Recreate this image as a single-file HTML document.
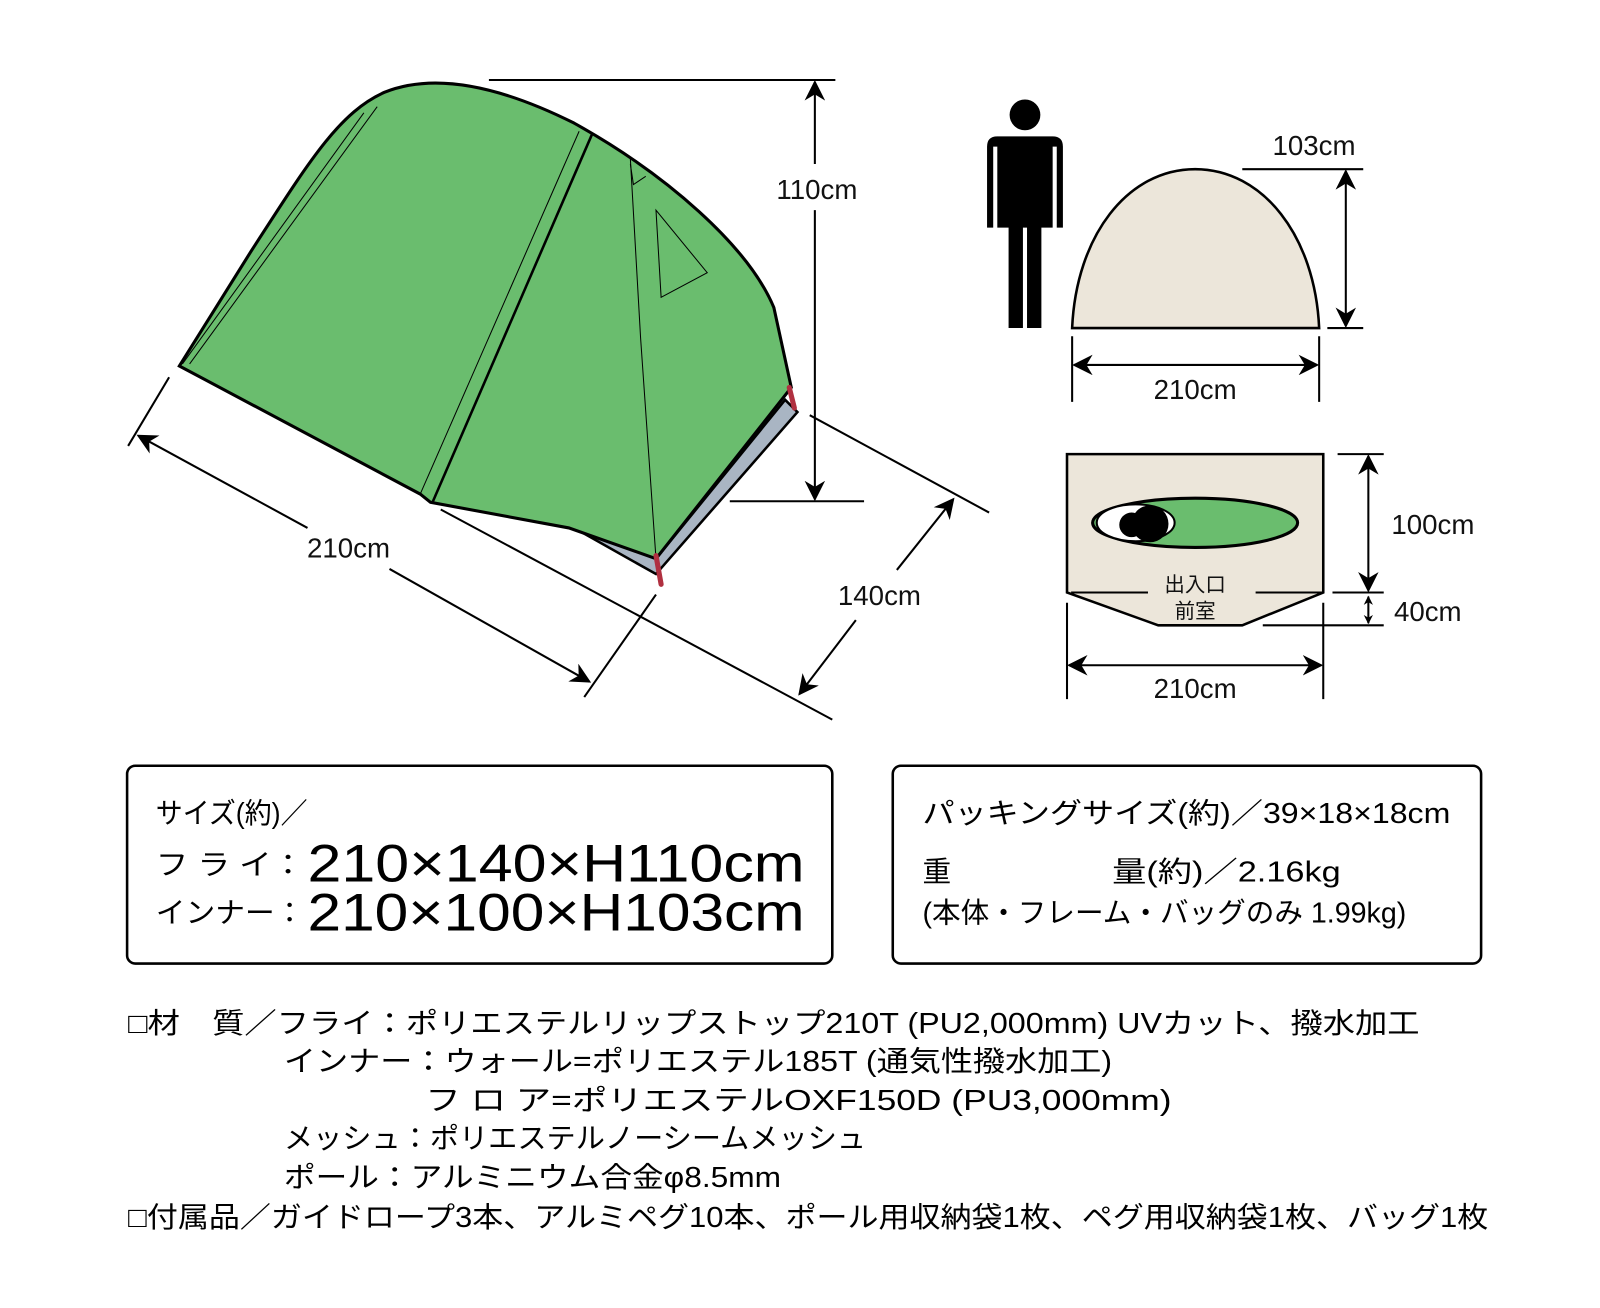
<!DOCTYPE html>
<html><head><meta charset="utf-8"><style>html,body{margin:0;padding:0;background:#fff}svg{display:block}</style></head><body>
<svg width="1600" height="1308" viewBox="0 0 1561 1276" xmlns="http://www.w3.org/2000/svg" font-family="'Liberation Sans','Noto Sans CJK JP',sans-serif">
<defs><marker id="a" viewBox="0 0 10 10" refX="9" refY="5" markerWidth="9" markerHeight="9" orient="auto-start-reverse" markerUnits="userSpaceOnUse"><path d="M0,0 L10,5 L0,10 L3,5z" fill="#000"/></marker>
<marker id="b" viewBox="0 0 10 10" refX="9" refY="5" markerWidth="20" markerHeight="20" orient="auto-start-reverse" markerUnits="userSpaceOnUse"><path d="M0,0 L10,5 L0,10 L3,5z" fill="#000"/></marker></defs>
<g stroke="#000" stroke-width="2" fill="none">
<polygon points="560,515 640,560 778,402 766,390 640,545" fill="#a9b5c3" stroke-width="2.5"/>
<path d="M175,357 L245,245 C300,160 330,110 375,90 C420,72 480,80 560,120 C650,170 730,240 755,300 L772,378 L640,545 L555,515 L420,490 L410,482 Z" fill="#6abd6e" stroke-width="3"/>
<line x1="410" y1="482" x2="565" y2="128" stroke-width="1"/>
<line x1="422" y1="490" x2="578" y2="130" stroke-width="2.5"/>
<line x1="178" y1="355" x2="355" y2="110" stroke-width="1"/>
<line x1="185" y1="355" x2="368" y2="104" stroke-width="1"/>
<path d="M615,155 L625,330 L640,545" stroke-width="1"/>
<path d="M640,205 L645,290 L690,266 Z" stroke-width="1"/>
<path d="M615,160 L618,180 L630,172" stroke-width="1"/>
<line x1="640" y1="542" x2="645" y2="570" stroke="#b03040" stroke-width="5" stroke-linecap="round"/>
<line x1="770" y1="378" x2="775" y2="398" stroke="#b03040" stroke-width="5" stroke-linecap="round"/>
<line x1="477" y1="78" x2="815" y2="78"/>
<line x1="712" y1="489" x2="843" y2="489"/>
<line x1="795" y1="80" x2="795" y2="160" marker-start="url(#b)"/>
<line x1="795" y1="205" x2="795" y2="487" marker-end="url(#b)"/>
<line x1="165" y1="368" x2="125" y2="435"/>
<line x1="640" y1="580" x2="570" y2="680"/>
<line x1="135" y1="425" x2="300" y2="515" marker-start="url(#b)"/>
<line x1="380" y1="555" x2="575" y2="665" marker-end="url(#b)"/>
<line x1="790" y1="405" x2="965" y2="500"/>
<line x1="430" y1="497" x2="812" y2="702"/>
<line x1="930" y1="487" x2="875" y2="556" marker-start="url(#b)"/>
<line x1="835" y1="605" x2="780" y2="677" marker-end="url(#b)"/>
<path d="M1046,320 C1050,230 1100,165 1166,165 C1232,165 1283,230 1287,320 Z" fill="#ece6da" stroke-width="2.5"/>
<line x1="1212" y1="165" x2="1330" y2="165"/>
<line x1="1295" y1="320" x2="1330" y2="320"/>
<line x1="1313" y1="167" x2="1313" y2="318" marker-start="url(#b)" marker-end="url(#b)"/>
<line x1="1046" y1="328" x2="1046" y2="392"/><line x1="1287" y1="328" x2="1287" y2="392"/>
<line x1="1048" y1="356" x2="1285" y2="356" marker-start="url(#b)" marker-end="url(#b)"/>
<path d="M1041,443 L1291,443 L1291,578 L1212,610 L1130,610 L1041,578 Z" fill="#ece6da" stroke-width="2.5"/>
<line x1="1045" y1="578" x2="1120" y2="578"/><line x1="1225" y1="578" x2="1290" y2="578"/>
<ellipse cx="1166" cy="510" rx="100" ry="24" fill="#6abd6e" stroke-width="3"/>
<ellipse cx="1108" cy="510" rx="38" ry="18" fill="#fff" stroke-width="2"/>
<line x1="1305" y1="443" x2="1350" y2="443"/><line x1="1300" y1="578" x2="1350" y2="578"/><line x1="1232" y1="610" x2="1350" y2="610"/>
<line x1="1335" y1="445" x2="1335" y2="576" marker-start="url(#b)" marker-end="url(#b)"/>
<line x1="1335" y1="582" x2="1335" y2="608" marker-start="url(#a)" marker-end="url(#a)"/>
<line x1="1041" y1="588" x2="1041" y2="682"/><line x1="1291" y1="588" x2="1291" y2="682"/>
<line x1="1043" y1="649" x2="1289" y2="649" marker-start="url(#b)" marker-end="url(#b)"/>
<rect x="124" y="747" width="688" height="193" rx="8" stroke-width="2.5"/>
<rect x="871" y="747" width="574" height="193" rx="8" stroke-width="2.5"/>
</g>
<circle cx="1104" cy="512" r="12" fill="#000"/><circle cx="1122" cy="511" r="18" fill="#000"/>
<g fill="#000"><circle cx="1000" cy="112" r="15"/>
<path d="M963,222 L963,143 Q963,133 973,133 L1027,133 Q1037,133 1037,143 L1037,222 L1031,222 L1031,143 L1027,143 L1027,222 L1016,222 L1016,320 L1002,320 L1002,222 L998,222 L998,320 L984,320 L984,222 L973,222 L973,143 L969,143 L969,222 Z"/></g>
<g font-size="27" text-anchor="middle" fill="#111">
<text x="797" y="194">110cm</text><text x="340" y="544">210cm</text><text x="858" y="590">140cm</text>
<text x="1282" y="151">103cm</text><text x="1166" y="389">210cm</text><text x="1398" y="521">100cm</text><text x="1393" y="606">40cm</text><text x="1166" y="681">210cm</text>
<text x="1166" y="577" font-size="20">出入口</text><text x="1166" y="603" font-size="20">前室</text></g>
<g fill="#000" font-size="28">
<text x="152" y="803" textLength="148" lengthAdjust="spacingAndGlyphs">サイズ(約)／</text>
<text x="152" y="853" textLength="145" lengthAdjust="spacingAndGlyphs">フ ラ イ：</text>
<text x="152" y="900" textLength="145" lengthAdjust="spacingAndGlyphs">インナー：</text>
<text x="300" y="860" font-size="52" textLength="485" lengthAdjust="spacingAndGlyphs">210×140×H110cm</text>
<text x="300" y="908" font-size="52" textLength="485" lengthAdjust="spacingAndGlyphs">210×100×H103cm</text>
<text x="900" y="803" textLength="515" lengthAdjust="spacingAndGlyphs">パッキングサイズ(約)／39×18×18cm</text>
<text x="900" y="860">重</text>
<text x="1085" y="860" textLength="223" lengthAdjust="spacingAndGlyphs">量(約)／2.16kg</text>
<text x="900" y="900" textLength="472" lengthAdjust="spacingAndGlyphs">(本体・フレーム・バッグのみ 1.99kg)</text>
<text x="125" y="1008" textLength="1260" lengthAdjust="spacingAndGlyphs">□材　質／フライ：ポリエステルリップストップ210T (PU2,000mm) UVカット、撥水加工</text>
<text x="277" y="1045" textLength="808" lengthAdjust="spacingAndGlyphs">インナー：ウォール=ポリエステル185T (通気性撥水加工)</text>
<text x="415" y="1083" textLength="728" lengthAdjust="spacingAndGlyphs">フ ロ ア=ポリエステルOXF150D (PU3,000mm)</text>
<text x="277" y="1120" textLength="568" lengthAdjust="spacingAndGlyphs">メッシュ：ポリエステルノーシームメッシュ</text>
<text x="277" y="1158" textLength="485" lengthAdjust="spacingAndGlyphs">ポール：アルミニウム合金φ8.5mm</text>
<text x="125" y="1197" textLength="1327" lengthAdjust="spacingAndGlyphs">□付属品／ガイドロープ3本、アルミペグ10本、ポール用収納袋1枚、ペグ用収納袋1枚、バッグ1枚</text>
</g>
</svg>
</body></html>
